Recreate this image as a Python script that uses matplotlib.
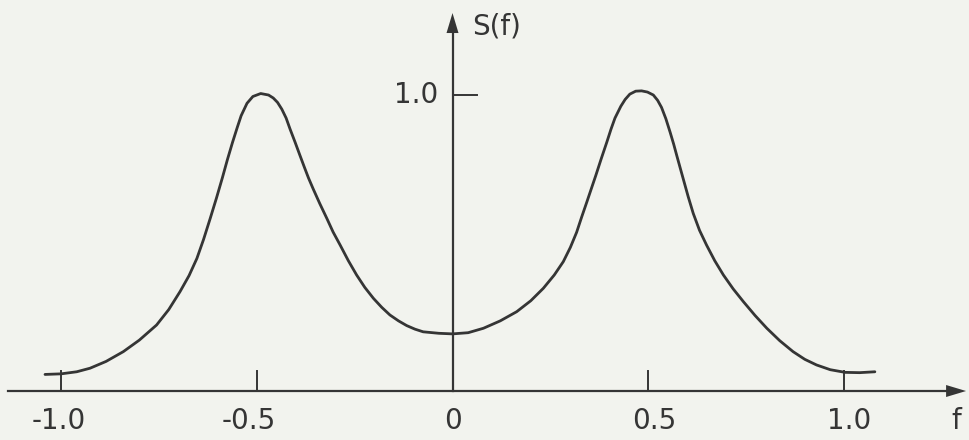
import numpy as np
import matplotlib
matplotlib.use('Agg')
import matplotlib.pyplot as plt
from matplotlib.patches import Polygon

# Spectral density S(f)
freq = [-1.041, -1.000, -0.960, -0.926, -0.885, -0.841, -0.800, -0.756,
        -0.725, -0.696, -0.673, -0.653, -0.636, -0.619, -0.603, -0.588,
        -0.575, -0.562, -0.550, -0.540, -0.525, -0.510, -0.490, -0.470,
        -0.458, -0.447, -0.436, -0.425, -0.415, -0.402, -0.390, -0.379,
        -0.368, -0.356, -0.339, -0.321, -0.305, -0.287, -0.266, -0.245,
        -0.224, -0.202, -0.181, -0.160, -0.138, -0.117, -0.096, -0.075,
        -0.035, 0.000,
        0.040, 0.079, 0.122, 0.164, 0.200, 0.232, 0.260, 0.283,
        0.301, 0.317, 0.330, 0.343, 0.355, 0.366, 0.380, 0.394,
        0.405, 0.415, 0.430, 0.441, 0.453, 0.468, 0.483, 0.498,
        0.513, 0.524, 0.534, 0.545, 0.556, 0.565, 0.573, 0.582,
        0.590, 0.602, 0.615, 0.631, 0.649, 0.670, 0.692, 0.717,
        0.743, 0.773, 0.803, 0.836, 0.870, 0.900, 0.930, 0.965,
        1.003, 1.040, 1.079]
spec = [0.056, 0.058, 0.065, 0.077, 0.100, 0.133, 0.172, 0.223,
        0.275, 0.336, 0.390, 0.448, 0.512, 0.583, 0.652, 0.720,
        0.782, 0.840, 0.890, 0.930, 0.972, 0.995, 1.005, 1.000,
        0.990, 0.975, 0.952, 0.922, 0.885, 0.840, 0.797, 0.758,
        0.720, 0.683, 0.633, 0.583, 0.537, 0.493, 0.440, 0.392,
        0.350, 0.313, 0.283, 0.257, 0.237, 0.221, 0.209, 0.200,
        0.195, 0.193,
        0.197, 0.212, 0.237, 0.268, 0.305, 0.347, 0.392, 0.437,
        0.485, 0.536, 0.588, 0.638, 0.685, 0.728, 0.785, 0.840,
        0.885, 0.922, 0.962, 0.985, 1.003, 1.013, 1.014, 1.010,
        1.000, 0.982, 0.958, 0.920, 0.874, 0.834, 0.795, 0.752,
        0.714, 0.657, 0.600, 0.543, 0.493, 0.440, 0.392, 0.345,
        0.302, 0.255, 0.212, 0.170, 0.133, 0.107, 0.088, 0.072,
        0.063, 0.062, 0.065]

x_ticks = [-1.0, -0.5, 0.0, 0.5, 1.0]
x_tick_labels = ['-1.0', '-0.5', '0', '0.5', '1.0']
y_ticks = [1.0]
y_tick_labels = ['1.0']

ink = '#353535'
paper = '#f2f3ee'

fig = plt.figure(figsize=(9.7, 4.4), dpi=100, facecolor=paper)
ax = fig.add_axes([0, 0, 1, 1])
ax.set_facecolor(paper)
ax.set_xlim(-1.156, 1.322)
ax.set_ylim(-0.1655, 1.321)
ax.axis('off')

# pixel -> data scale factors
px_x = 1 / 391.5
px_y = 1 / 296.0

# axes with arrow heads
x_end, y_end = 1.312, 1.277
ax.plot([-1.135, x_end - 18 * px_x], [0, 0], color=ink, lw=1.6)
ax.plot([0, 0], [0, y_end - 18 * px_y], color=ink, lw=1.6)
ax.add_patch(Polygon([[x_end, 0], [x_end - 20 * px_x, 6 * px_y],
                      [x_end - 20 * px_x, -6 * px_y]], closed=True,
                     color=ink, lw=0))
ax.add_patch(Polygon([[0, y_end], [-6 * px_x, y_end - 20 * px_y],
                      [6 * px_x, y_end - 20 * px_y]], closed=True,
                     color=ink, lw=0))

# tick marks
for t in x_ticks:
    if t != 0:
        ax.plot([t, t], [0, 20 * px_y], color=ink, lw=1.4)
for t in y_ticks:
    ax.plot([0, 24 * px_x], [t, t], color=ink, lw=1.4)

# the curve
ax.plot(freq, spec, color=ink, lw=2.0, solid_joinstyle='round',
        solid_capstyle='round')

font = dict(family='DejaVu Sans', color=ink, fontsize=20)
label_offsets = {'-1.0': -2, '-0.5': -8, '0': 0, '0.5': 6, '1.0': 5}
for t, lab in zip(x_ticks, x_tick_labels):
    ax.text(t + label_offsets[lab] * px_x, -30 * px_y, lab,
            ha='center', va='center', **font)
for t, lab in zip(y_ticks, y_tick_labels):
    ax.text(-36 * px_x, t, lab, ha='center', va='center', **font)

ax.text(1.287, -30 * px_y, 'f', ha='center', va='center', **font)
ax.text(20 * px_x, 1.23, 'S(f)', ha='left', va='center', **font)

fig.savefig('out.png', dpi=100, facecolor=paper)
